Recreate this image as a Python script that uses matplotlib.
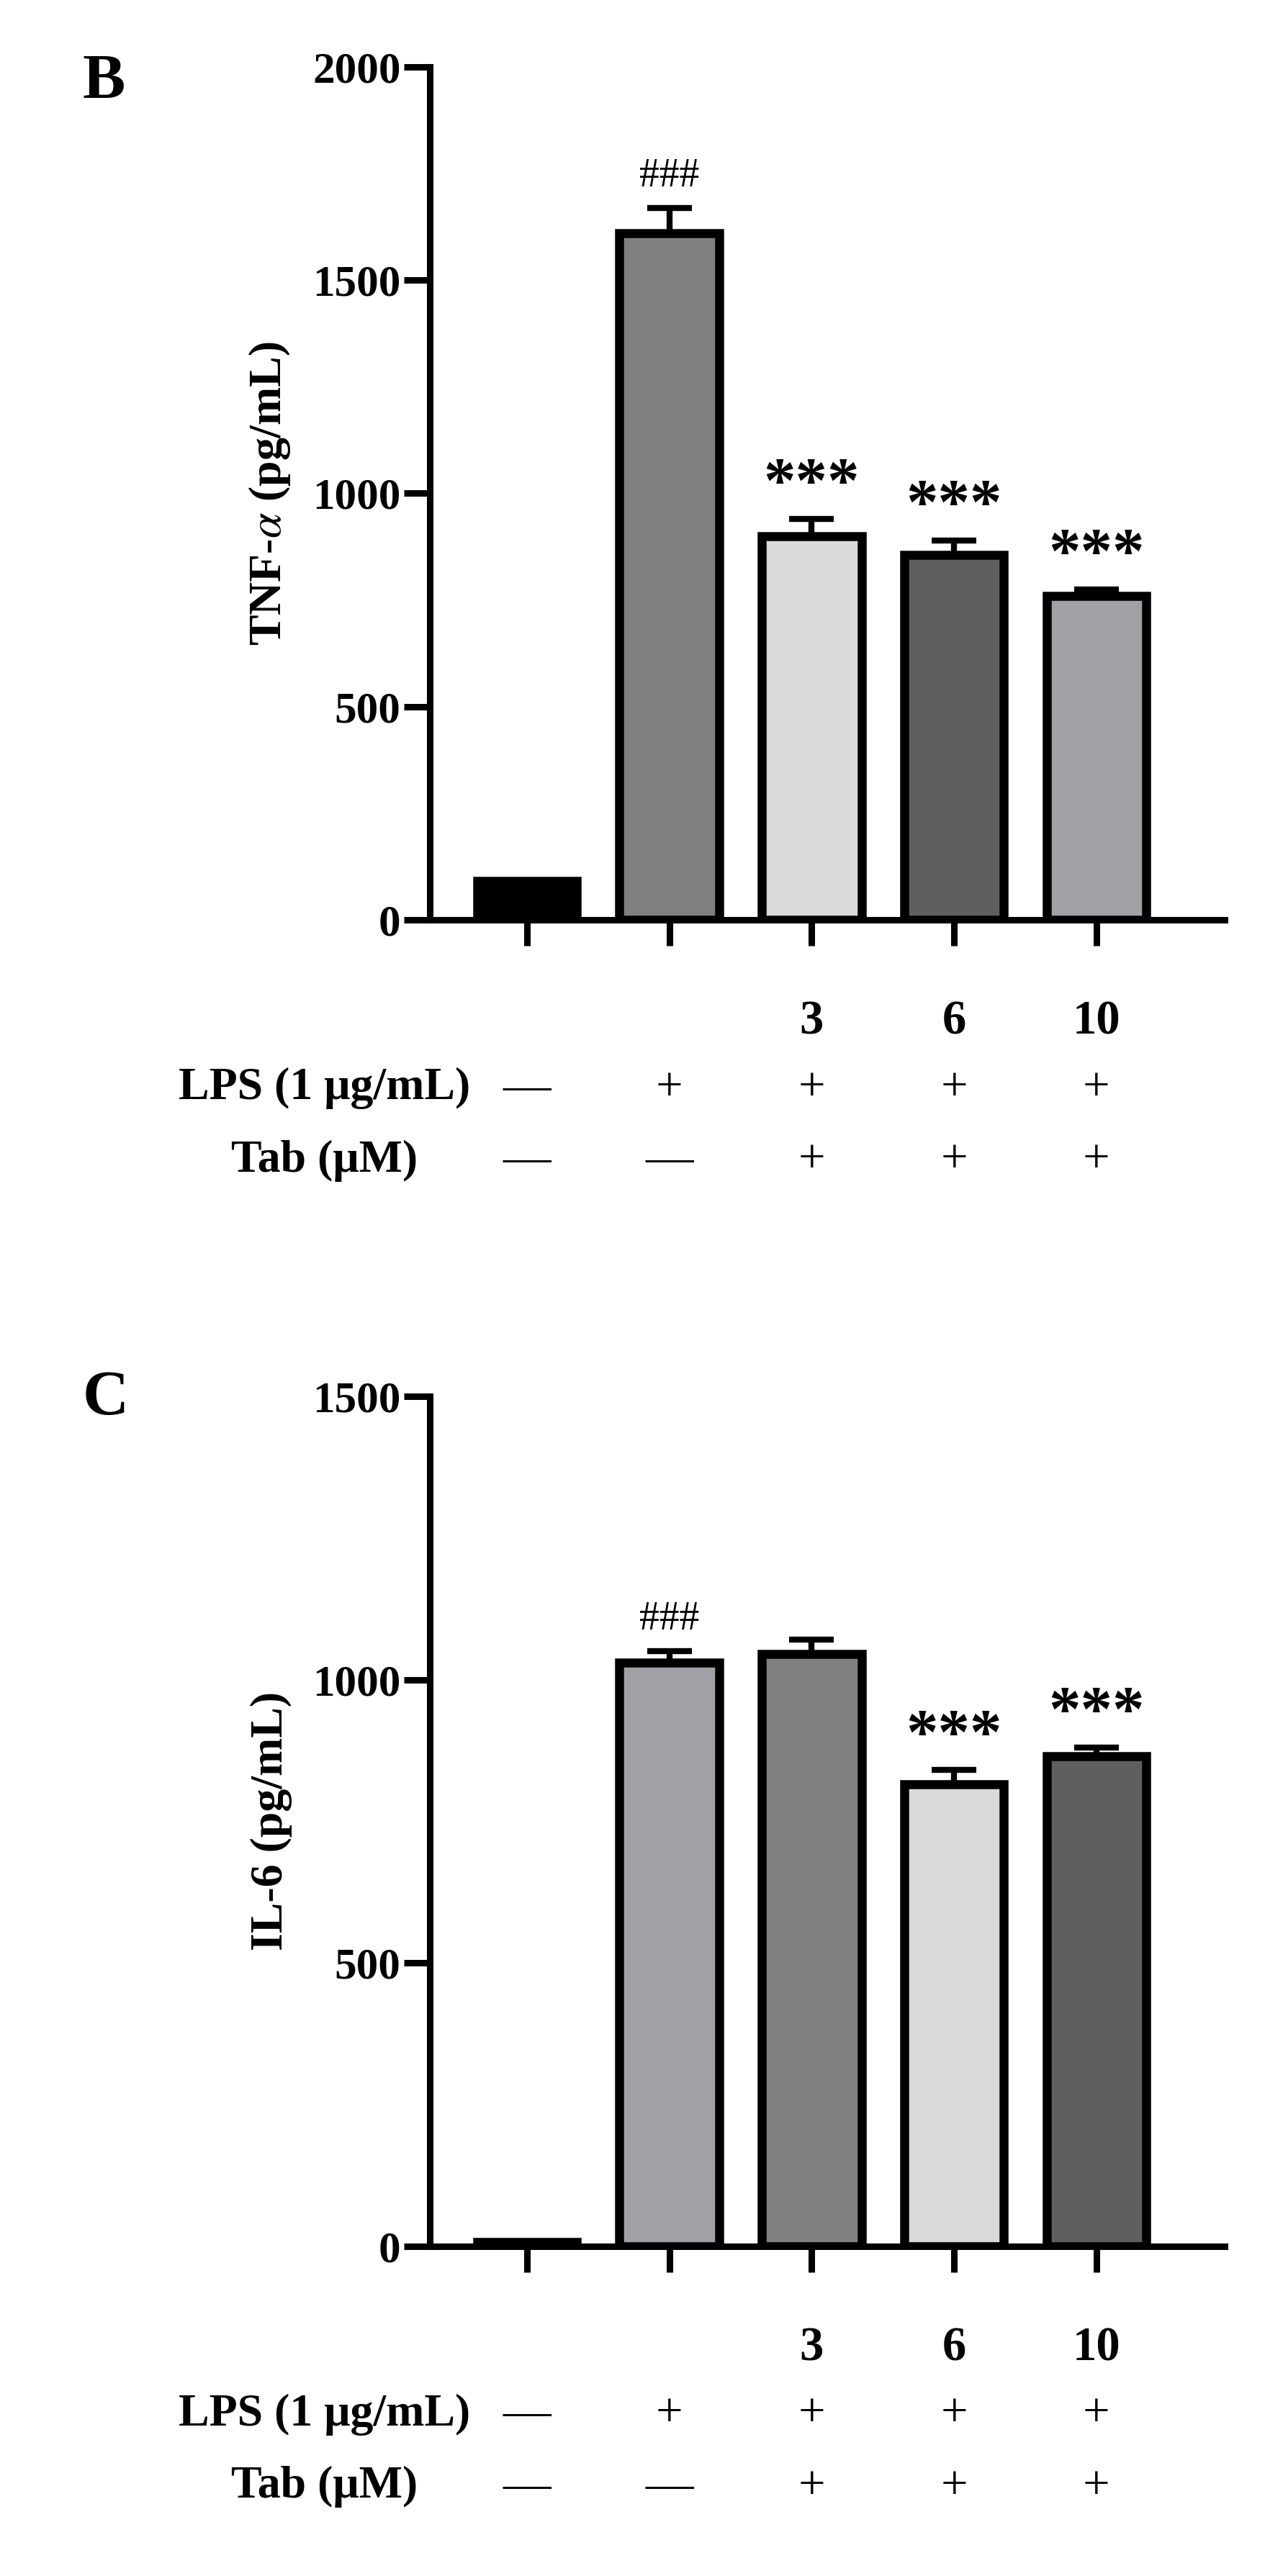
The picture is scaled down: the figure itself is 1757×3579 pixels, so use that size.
import matplotlib
matplotlib.use("Agg")
import matplotlib.pyplot as plt

plt.rcParams['font.family'] = ['Liberation Serif', 'DejaVu Serif']
plt.rcParams['mathtext.fontset'] = 'stix'

conc = ["", "", "3", "6", "10"]
lps = ["—", "+", "+", "+", "+"]
tab = ["—", "—", "+", "+", "+"]

b_vals = [90, 1610, 900, 855, 760]
b_err = [0, 60, 40, 35, 15]
b_cols = ["#000000", "#808080", "#d9d9d9", "#5f5f5f", "#a0a0a5"]
b_marks = ["", "###", "***", "***", "***"]

c_vals = [8, 1030, 1045, 815, 865]
c_err = [0, 20, 25, 25, 15]
c_cols = ["#000000", "#a0a0a5", "#808080", "#d9d9d9", "#5f5f5f"]
c_marks = ["", "###", "", "***", "***"]

fig = plt.figure(figsize=(17.57, 35.79), dpi=100)

def panel(rect, vals, err, cols, marks, ymax, step, ylabel, letter, lety):
    ax = fig.add_axes(rect)
    x = list(range(len(vals)))
    ax.bar(x, vals, width=0.7, color=cols, edgecolor="black", linewidth=9, zorder=2)
    for xi, v, e in zip(x, vals, err):
        if e > 0:
            ax.errorbar(xi, v, yerr=[[0], [e]], color="black", capsize=22, capthick=6, elinewidth=6, zorder=1)
    for xi, v, e, m in zip(x, vals, err, marks):
        if m == "###":
            ax.text(xi, v + e + ymax * 0.015, m, ha="center", va="bottom", fontsize=40)
        elif m:
            ax.text(xi, v + e + ymax * 0.005, m, ha="center", va="bottom", fontsize=64, fontweight="bold")
    ax.set_xlim(-0.68, 4.9)
    ax.set_ylim(0, ymax)
    ax.set_yticks(range(0, ymax + 1, step))
    ax.set_xticks(x)
    ax.set_xticklabels([])
    for s in ["top", "right"]:
        ax.spines[s].set_visible(False)
    for s in ["left", "bottom"]:
        ax.spines[s].set_linewidth(6.5)
    ax.tick_params(axis="both", width=6.5, length=26, labelsize=44, direction="out")
    for lbl in ax.get_yticklabels():
        lbl.set_fontweight("bold")
    ax.set_ylabel(ylabel, fontsize=46, fontweight="bold", labelpad=20)
    tr = ax.get_xaxis_transform()
    rows = [(-0.12, conc), (-0.198, lps), (-0.283, tab)]
    for yy, labs in rows:
        for xi, t in zip(x, labs):
            ax.text(xi, yy, t, transform=tr, ha="center", va="center", fontsize=48,
                    fontweight="bold" if t not in ("—", "+") else "normal")
    ax.text(-1.42, -0.198, "LPS (1 μg/mL)", transform=tr, ha="center", va="center", fontsize=46, fontweight="bold")
    ax.text(-1.42, -0.283, "Tab (μM)", transform=tr, ha="center", va="center", fontsize=46, fontweight="bold")
    fig.text(0.065, lety, letter, fontsize=64, fontweight="bold", va="center")
    return ax

panel([0.34, 0.643, 0.628, 0.331], b_vals, b_err, b_cols, b_marks, 2000, 500,
      "TNF-$\\alpha$ (pg/mL)", "B", 0.968)
panel([0.34, 0.128, 0.628, 0.33], c_vals, c_err, c_cols, c_marks, 1500, 500,
      "IL-6 (pg/mL)", "C", 0.457)

fig.savefig("out.png", dpi=100)
